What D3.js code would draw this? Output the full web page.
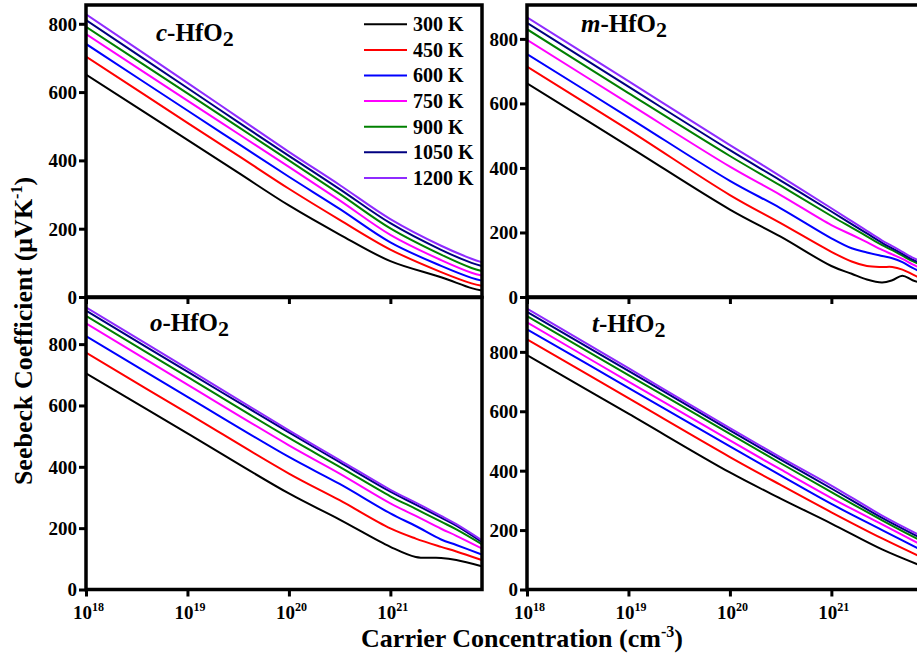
<!DOCTYPE html>
<html>
<head>
<meta charset="utf-8">
<script src="https://cdn.jsdelivr.net/npm/d3@7/dist/d3.min.js"></script>
<style>
  html, body { margin: 0; padding: 0; background: #fff; }
  svg { display: block; }
  text { font-family: "Liberation Serif", "Times New Roman", serif; font-weight: bold; fill: #000; }
</style>
</head>
<body>
<script>
// Seebeck coefficient vs carrier concentration for four HfO2 polymorphs
const temperatures = ["300 K", "450 K", "600 K", "750 K", "900 K", "1050 K", "1200 K"];
const lineColors = ["#000000", "#ff0000", "#0000ff", "#ff00ff", "#008000", "#000080", "#8f2bff"];

const xTickExponents = [18, 19, 20, 21];
const yTickValues = [0, 200, 400, 600, 800];

// cubic phase: log10(n / cm^-3) and S (µV/K), one row per temperature
const cubicLogN = [18, 19, 19.5, 20, 20.5, 21, 21.5, 21.8, 21.9];
const cubicS = [
  [651, 460, 364, 268, 183, 105, 58, 26, 19],
  [704, 510, 414, 317, 226, 139, 73, 40, 33],
  [741, 546, 449, 352, 258, 160, 91, 56, 48],
  [770, 575, 478, 381, 283, 182, 108, 71, 63],
  [791, 596, 498, 400, 302, 201, 124, 85, 76],
  [811, 612, 512, 413, 316, 216, 138, 100, 91],
  [828, 627, 526, 425, 328, 228, 150, 112, 102]
];

// monoclinic phase
const monoLogN = [18, 19, 20, 20.5, 21, 21.2, 21.35, 21.5, 21.6, 21.7, 21.8, 21.9];
const monoS = [
  [662, 467, 271, 187, 96, 72, 54, 45, 52, 66, 52, 42],
  [714, 518, 316, 229, 140, 110, 96, 93, 93, 85, 70, 55],
  [753, 557, 360, 275, 182, 151, 138, 127, 120, 108, 90, 75],
  [797, 600, 404, 316, 223, 193, 170, 146, 132, 118, 101, 87],
  [830, 632, 437, 345, 251, 215, 188, 161, 145, 128, 111, 98],
  [850, 652, 455, 361, 265, 226, 197, 168, 151, 134, 116, 103],
  [867, 669, 471, 374, 275, 235, 205, 175, 158, 140, 122, 109]
];

// orthorhombic phase
const orthoLogN = [18, 19, 20, 20.5, 21, 21.25, 21.5, 21.65, 21.9];
const orthoS = [
  [705, 509, 313, 228, 139, 106, 103, 96, 76],
  [772, 575, 378, 291, 199, 166, 139, 124, 96],
  [826, 628, 432, 344, 248, 207, 163, 145, 114],
  [868, 668, 470, 378, 281, 240, 198, 175, 134],
  [892, 693, 494, 400, 304, 263, 221, 196, 148],
  [909, 710, 512, 415, 319, 277, 234, 208, 155],
  [920, 720, 519, 422, 325, 283, 240, 213, 161]
];

// tetragonal phase
const tetraLogN = [18, 19, 20, 20.5, 21, 21.5, 21.9];
const tetraS = [
  [789, 592, 394, 306, 222, 135, 78],
  [842, 644, 446, 352, 260, 172, 107],
  [876, 679, 482, 384, 288, 200, 130],
  [899, 700, 502, 404, 308, 219, 148],
  [920, 722, 524, 425, 328, 233, 161],
  [935, 736, 536, 437, 340, 241, 170],
  [946, 745, 543, 445, 350, 249, 178]
];

const panels = [
  { prefix: "c", logN: cubicLogN, S: cubicS, yMax: 855, left: 86, top: 5, row: 0, label: [156, 41], legend: true },
  { prefix: "m", logN: monoLogN, S: monoS, yMax: 905, left: 527, top: 5, row: 0, label: [581, 32] },
  { prefix: "o", logN: orthoLogN, S: orthoS, yMax: 952, left: 86, top: 297.5, row: 1, label: [150, 331] },
  { prefix: "t", logN: tetraLogN, S: tetraS, yMax: 983, left: 527, top: 297.5, row: 1, label: [592, 332] }
];

const W = 917, H = 657;
const PW = 396, PH = 292;
const xMin = 1e18, xMax = 8e21;

const svg = d3.select("body").append("svg").attr("width", W).attr("height", H);

panels.forEach((p, pi) => {
  const x = d3.scaleLog().domain([xMin, xMax]).range([p.left, p.left + PW]);
  const y = d3.scaleLinear().domain([0, p.yMax]).range([p.top + PH, p.top]);
  const g = svg.append("g");

  const clipId = "clip" + pi;
  g.append("clipPath").attr("id", clipId)
    .append("rect").attr("x", p.left).attr("y", p.top).attr("width", PW).attr("height", PH);

  const line = d3.line()
    .x(d => x(Math.pow(10, d[0])))
    .y(d => y(d[1]))
    .curve(d3.curveCatmullRom.alpha(0.5));

  const curves = g.append("g").attr("clip-path", `url(#${clipId})`);
  p.S.forEach((vals, i) => {
    curves.append("path")
      .datum(p.logN.map((e, k) => [e, vals[k]]))
      .attr("d", line)
      .attr("fill", "none")
      .attr("stroke", lineColors[i])
      .attr("stroke-width", 2);
  });

  // frame
  g.append("rect")
    .attr("x", p.left).attr("y", p.top).attr("width", PW).attr("height", PH)
    .attr("fill", "none").attr("stroke", "#000").attr("stroke-width", 3.5);

  // y axis
  const yAxis = g.append("g").attr("transform", `translate(${p.left},0)`)
    .call(d3.axisLeft(y).tickValues(yTickValues).tickSize(7).tickPadding(2).tickFormat(d3.format("d")));
  yAxis.select(".domain").remove();
  yAxis.selectAll(".tick line").attr("stroke", "#000").attr("stroke-width", 3);
  yAxis.selectAll(".tick text")
    .attr("font-size", 19).attr("font-family", "Liberation Serif").attr("font-weight", "bold")
    .attr("dy", "0.34em").attr("fill", "#000");

  // x axis
  const xAxis = g.append("g").attr("transform", `translate(0,${p.top + PH})`)
    .call(d3.axisBottom(x).tickValues(xTickExponents.map(e => Math.pow(10, e))).tickSize(7).tickFormat(""));
  xAxis.select(".domain").remove();
  xAxis.selectAll(".tick line").attr("stroke", "#000").attr("stroke-width", 3);

  if (p.row === 1) {
    xAxis.selectAll(".tick text").remove();
    xAxis.selectAll(".tick").each(function (d) {
      const t = d3.select(this).append("text")
        .attr("y", 29).attr("x", 2).attr("text-anchor", "middle")
        .attr("font-size", 19).attr("fill", "#000").attr("font-weight", "bold")
        .attr("font-family", "Liberation Serif");
      t.append("tspan").text("10");
      t.append("tspan").attr("dy", -8).attr("font-size", 12).text(Math.round(Math.log10(d)));
    });
  }

  // phase label
  const lab = g.append("text").attr("x", p.label[0]).attr("y", p.label[1]).attr("font-size", 25);
  lab.append("tspan").attr("font-style", "italic").text(p.prefix);
  lab.append("tspan").text("-HfO");
  lab.append("tspan").attr("dy", 5).attr("font-size", 22).text("2");

  if (p.legend) {
    const lg = g.append("g");
    temperatures.forEach((t, i) => {
      const cy = 24.3 + i * 25.6;
      lg.append("line").attr("x1", 364).attr("x2", 407).attr("y1", cy).attr("y2", cy)
        .attr("stroke", lineColors[i]).attr("stroke-width", 2);
      lg.append("text").attr("x", 413).attr("y", cy + 6.8).attr("font-size", 20).text(t);
    });
  }
});

// axis titles
const xt = svg.append("text").attr("x", 522).attr("y", 647).attr("text-anchor", "middle").attr("font-size", 26);
xt.append("tspan").text("Carrier Concentration (cm");
xt.append("tspan").attr("dy", -10).attr("font-size", 16).text("-3");
xt.append("tspan").attr("dy", 10).text(")");

const yt = svg.append("text").attr("transform", "translate(32,331) rotate(-90)")
  .attr("text-anchor", "middle").attr("font-size", 26);
yt.append("tspan").text("Seebeck Coefficient (\u03bcVK");
yt.append("tspan").attr("dy", -10).attr("font-size", 16).text("-1");
yt.append("tspan").attr("dy", 10).text(")");
</script>
</body>
</html>
